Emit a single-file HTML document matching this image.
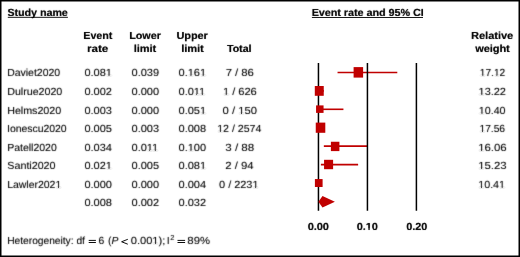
<!DOCTYPE html><html><head><meta charset="utf-8"><style>html,body{margin:0;padding:0;background:#fff;}svg{display:block;}text{font-family:"Liberation Sans",sans-serif;font-size:10.3px;fill:#000;white-space:pre;text-rendering:geometricPrecision;}</style></head><body>
<svg width="520" height="257" viewBox="0 0 520 257">
<defs><filter id="g" x="0" y="0" width="520" height="257" filterUnits="userSpaceOnUse"><feColorMatrix type="saturate" values="0"/><feConvolveMatrix order="3" kernelMatrix="0.0114 0.0841 0.0114 0.0841 0.6178 0.0841 0.0114 0.0841 0.0114" edgeMode="none"/></filter><filter id="g2" x="0" y="0" width="520" height="257" filterUnits="userSpaceOnUse"><feColorMatrix type="saturate" values="0"/><feConvolveMatrix order="3" kernelMatrix="0.0025 0.0450 0.0025 0.0450 0.8100 0.0450 0.0025 0.0450 0.0025" edgeMode="none"/></filter></defs>
<rect x="0" y="0" width="520" height="257" fill="#fff"/>
<line x1="337.55" y1="72.55" x2="397.30" y2="72.55" stroke="#c00000" stroke-width="1.6"/>
<line x1="318.45" y1="90.9" x2="323.84" y2="90.9" stroke="#c00000" stroke-width="1.6"/>
<line x1="318.45" y1="109.3" x2="343.43" y2="109.3" stroke="#c00000" stroke-width="1.6"/>
<line x1="319.92" y1="127.7" x2="322.37" y2="127.7" stroke="#c00000" stroke-width="1.6"/>
<line x1="323.84" y1="146.1" x2="367.43" y2="146.1" stroke="#c00000" stroke-width="1.6"/>
<line x1="320.90" y1="164.6" x2="358.12" y2="164.6" stroke="#c00000" stroke-width="1.6"/>
<line x1="318.45" y1="183.0" x2="320.41" y2="183.0" stroke="#c00000" stroke-width="1.6"/>
<line x1="318.45" y1="63" x2="318.45" y2="210.75" stroke="#000" stroke-width="1.5"/>
<line x1="367.43" y1="63" x2="367.43" y2="210.75" stroke="#000" stroke-width="1.5"/>
<line x1="416.40" y1="63" x2="416.40" y2="210.75" stroke="#000" stroke-width="1.5"/>
<rect x="353.6" y="67.1" width="9.50" height="10.50" fill="#c00000"/>
<rect x="314.8" y="86.0" width="8.95" height="9.80" fill="#c00000"/>
<rect x="316.06" y="105.4" width="7.50" height="7.50" fill="#c00000"/>
<rect x="315.75" y="122.6" width="9.55" height="10.20" fill="#c00000"/>
<rect x="330.9" y="141.75" width="8.50" height="9.35" fill="#c00000"/>
<rect x="324.06" y="159.8" width="9.04" height="9.40" fill="#c00000"/>
<rect x="314.9" y="179.06" width="7.70" height="7.94" fill="#c00000"/>
<polygon points="318.4,201.8 322.5,196.1 334.9,201.8 322.5,207.5" fill="#c00000"/>
<rect x="7.8" y="16.85" width="60.1" height="0.9" fill="#000"/>
<rect x="311.9" y="17.0" width="111.1" height="0.9" fill="#000"/>
<rect x="88.7" y="239.9" width="7.2" height="0.95" fill="#000"/><rect x="88.7" y="242.05" width="7.2" height="0.95" fill="#000"/>
<polyline points="127.8,239.3 121.6,241.75 127.8,244.2" fill="none" stroke="#000" stroke-width="0.95"/>
<rect x="177.5" y="239.9" width="7.6" height="0.95" fill="#000"/><rect x="177.5" y="242.05" width="7.6" height="0.95" fill="#000"/>
<rect x="0.75" y="0.75" width="518.5" height="255.5" fill="none" stroke="#000" stroke-width="1.5"/>
<g filter="url(#g)">
<g id="tr">
<text x="7.18" y="76.05" textLength="52.92" lengthAdjust="spacingAndGlyphs">Daviet2020</text>
<text x="7.19" y="94.75" textLength="55.09" lengthAdjust="spacingAndGlyphs">Dulrue2020</text>
<text x="7.19" y="113.75" textLength="53.99" lengthAdjust="spacingAndGlyphs">Helms2020</text>
<text x="7.09" y="131.75" textLength="59.57" lengthAdjust="spacingAndGlyphs">Ionescu2020</text>
<text x="7.21" y="150.75" textLength="49.52" lengthAdjust="spacingAndGlyphs">Patell2020</text>
<text x="7.38" y="168.9" textLength="48.12" lengthAdjust="spacingAndGlyphs">Santi2020</text>
<text x="7.21" y="187.75" textLength="53.99" lengthAdjust="spacingAndGlyphs">Lawler2021</text>
<text x="225.70" y="76.05" textLength="28.11" lengthAdjust="spacingAndGlyphs">7 / 86</text>
<text x="222.94" y="94.75" textLength="33.84" lengthAdjust="spacingAndGlyphs">1 / 626</text>
<text x="222.59" y="113.75" textLength="34.32" lengthAdjust="spacingAndGlyphs">0 / 150</text>
<text x="217.23" y="131.75" textLength="44.11" lengthAdjust="spacingAndGlyphs">12 / 2574</text>
<text x="225.38" y="150.75" textLength="28.74" lengthAdjust="spacingAndGlyphs">3 / 88</text>
<text x="225.25" y="168.9" textLength="28.24" lengthAdjust="spacingAndGlyphs">2 / 94</text>
<text x="219.10" y="187.75" textLength="39.39" lengthAdjust="spacingAndGlyphs">0 / 2231</text>
<text x="479.87" y="76.05" textLength="25.26" lengthAdjust="spacingAndGlyphs">17.12</text>
<text x="478.60" y="94.75" textLength="27.36" lengthAdjust="spacingAndGlyphs">13.22</text>
<text x="478.82" y="113.75" textLength="26.70" lengthAdjust="spacingAndGlyphs">10.40</text>
<text x="479.46" y="131.75" textLength="25.57" lengthAdjust="spacingAndGlyphs">17.56</text>
<text x="478.28" y="150.75" textLength="28.31" lengthAdjust="spacingAndGlyphs">16.06</text>
<text x="478.28" y="168.9" textLength="28.31" lengthAdjust="spacingAndGlyphs">15.23</text>
<text x="478.33" y="187.75" textLength="26.62" lengthAdjust="spacingAndGlyphs">10.41</text>
<text x="7.20" y="244.3" textLength="77.72" lengthAdjust="spacingAndGlyphs">Heterogeneity: df</text>
<text x="98.40" y="244.3" textLength="5.73" lengthAdjust="spacingAndGlyphs">6</text>
<text x="107.88" y="244.3" textLength="3.44" lengthAdjust="spacingAndGlyphs">(</text>
<text x="111.42" y="244.3" textLength="6.88" lengthAdjust="spacingAndGlyphs" font-style="italic">P</text>
<text x="130.80" y="244.3" textLength="34.41" lengthAdjust="spacingAndGlyphs">0.001);</text>
<text x="166.75" y="244.3" textLength="2.88" lengthAdjust="spacingAndGlyphs">I</text>
<text x="170.32" y="240.35" textLength="4.06" lengthAdjust="spacingAndGlyphs" style="font-size:7.3px">2</text>
<text x="187.35" y="244.3" textLength="22.64" lengthAdjust="spacingAndGlyphs">89%</text>
<text x="84.40" y="76.05" textLength="27.47" lengthAdjust="spacingAndGlyphs">0.081</text>
<text x="131.55" y="76.05" textLength="27.47" lengthAdjust="spacingAndGlyphs">0.039</text>
<text x="178.55" y="76.05" textLength="27.47" lengthAdjust="spacingAndGlyphs">0.161</text>
<text x="84.40" y="94.75" textLength="27.47" lengthAdjust="spacingAndGlyphs">0.002</text>
<text x="131.55" y="94.75" textLength="27.47" lengthAdjust="spacingAndGlyphs">0.000</text>
<text x="178.55" y="94.75" textLength="26.65" lengthAdjust="spacingAndGlyphs">0.011</text>
<text x="84.40" y="113.75" textLength="27.47" lengthAdjust="spacingAndGlyphs">0.003</text>
<text x="131.55" y="113.75" textLength="27.47" lengthAdjust="spacingAndGlyphs">0.000</text>
<text x="178.55" y="113.75" textLength="27.47" lengthAdjust="spacingAndGlyphs">0.051</text>
<text x="84.40" y="131.75" textLength="27.47" lengthAdjust="spacingAndGlyphs">0.005</text>
<text x="131.55" y="131.75" textLength="27.47" lengthAdjust="spacingAndGlyphs">0.003</text>
<text x="178.55" y="131.75" textLength="27.47" lengthAdjust="spacingAndGlyphs">0.008</text>
<text x="84.40" y="150.75" textLength="27.47" lengthAdjust="spacingAndGlyphs">0.034</text>
<text x="131.55" y="150.75" textLength="26.65" lengthAdjust="spacingAndGlyphs">0.011</text>
<text x="178.55" y="150.75" textLength="27.47" lengthAdjust="spacingAndGlyphs">0.100</text>
<text x="84.40" y="168.9" textLength="27.47" lengthAdjust="spacingAndGlyphs">0.021</text>
<text x="131.55" y="168.9" textLength="27.47" lengthAdjust="spacingAndGlyphs">0.005</text>
<text x="178.55" y="168.9" textLength="27.47" lengthAdjust="spacingAndGlyphs">0.081</text>
<text x="84.40" y="187.75" textLength="27.47" lengthAdjust="spacingAndGlyphs">0.000</text>
<text x="131.55" y="187.75" textLength="27.47" lengthAdjust="spacingAndGlyphs">0.000</text>
<text x="178.55" y="187.75" textLength="27.47" lengthAdjust="spacingAndGlyphs">0.004</text>
<text x="84.40" y="205.75" textLength="27.47" lengthAdjust="spacingAndGlyphs">0.008</text>
<text x="131.55" y="205.75" textLength="27.47" lengthAdjust="spacingAndGlyphs">0.002</text>
<text x="178.55" y="205.75" textLength="27.47" lengthAdjust="spacingAndGlyphs">0.032</text>
</g>
<use href="#tr" transform="translate(0.2 0)" opacity="0.3"/>
</g>
<g filter="url(#g2)">
<g id="tb">
<text x="7.41" y="15.9" textLength="60.38" lengthAdjust="spacingAndGlyphs" font-weight="bold">Study name</text>
<text x="311.72" y="16.0" textLength="111.93" lengthAdjust="spacingAndGlyphs" font-weight="bold">Event rate and 95% CI</text>
<text x="83.33" y="39.4" textLength="28.95" lengthAdjust="spacingAndGlyphs" font-weight="bold">Event</text>
<text x="87.10" y="51.85" textLength="21.14" lengthAdjust="spacingAndGlyphs" font-weight="bold">rate</text>
<text x="129.32" y="39.4" textLength="31.49" lengthAdjust="spacingAndGlyphs" font-weight="bold">Lower</text>
<text x="133.70" y="51.85" textLength="22.48" lengthAdjust="spacingAndGlyphs" font-weight="bold">limit</text>
<text x="176.54" y="39.4" textLength="31.29" lengthAdjust="spacingAndGlyphs" font-weight="bold">Upper</text>
<text x="181.20" y="51.85" textLength="22.58" lengthAdjust="spacingAndGlyphs" font-weight="bold">limit</text>
<text x="226.97" y="51.85" textLength="24.52" lengthAdjust="spacingAndGlyphs" font-weight="bold">Total</text>
<text x="471.10" y="39.4" textLength="42.05" lengthAdjust="spacingAndGlyphs" font-weight="bold">Relative</text>
<text x="475.25" y="51.85" textLength="34.47" lengthAdjust="spacingAndGlyphs" font-weight="bold">weight</text>
<text x="307.70" y="230.0" textLength="21.14" lengthAdjust="spacingAndGlyphs" font-weight="bold">0.00</text>
<text x="356.81" y="230.0" textLength="21.04" lengthAdjust="spacingAndGlyphs" font-weight="bold">0.10</text>
<text x="406.21" y="230.0" textLength="20.93" lengthAdjust="spacingAndGlyphs" font-weight="bold">0.20</text>
</g>
<use href="#tb" transform="translate(0.2 0)" opacity="0.6"/>
<rect x="55.45" y="186.96" width="2.54" height="1.16" fill="#fff"/>
<rect x="58.95" y="186.96" width="2.46" height="1.16" fill="#fff"/>
<rect x="223.06" y="93.96" width="2.64" height="1.16" fill="#fff"/>
<rect x="226.72" y="93.96" width="2.56" height="1.16" fill="#fff"/>
<rect x="238.30" y="112.96" width="2.67" height="1.16" fill="#fff"/>
<rect x="242.01" y="112.96" width="2.59" height="1.16" fill="#fff"/>
<rect x="217.32" y="130.96" width="2.56" height="1.16" fill="#fff"/>
<rect x="220.85" y="130.96" width="2.47" height="1.16" fill="#fff"/>
<rect x="252.53" y="186.96" width="2.61" height="1.16" fill="#fff"/>
<rect x="256.15" y="186.96" width="2.53" height="1.16" fill="#fff"/>
<rect x="479.92" y="74.96" width="2.47" height="1.16" fill="#fff"/>
<rect x="483.32" y="74.96" width="2.39" height="1.16" fill="#fff"/>
<rect x="493.94" y="74.96" width="2.47" height="1.16" fill="#fff"/>
<rect x="497.35" y="74.96" width="2.39" height="1.16" fill="#fff"/>
<rect x="478.71" y="93.96" width="2.62" height="1.16" fill="#fff"/>
<rect x="482.34" y="93.96" width="2.53" height="1.16" fill="#fff"/>
<rect x="478.91" y="112.96" width="2.57" height="1.16" fill="#fff"/>
<rect x="482.47" y="112.96" width="2.49" height="1.16" fill="#fff"/>
<rect x="479.52" y="130.96" width="2.49" height="1.16" fill="#fff"/>
<rect x="482.96" y="130.96" width="2.41" height="1.16" fill="#fff"/>
<rect x="478.42" y="149.96" width="2.68" height="1.16" fill="#fff"/>
<rect x="482.15" y="149.96" width="2.60" height="1.16" fill="#fff"/>
<rect x="478.42" y="167.96" width="2.68" height="1.16" fill="#fff"/>
<rect x="482.15" y="167.96" width="2.60" height="1.16" fill="#fff"/>
<rect x="478.42" y="186.96" width="2.57" height="1.16" fill="#fff"/>
<rect x="481.97" y="186.96" width="2.48" height="1.16" fill="#fff"/>
<rect x="499.11" y="186.96" width="2.57" height="1.16" fill="#fff"/>
<rect x="502.66" y="186.96" width="2.49" height="1.16" fill="#fff"/>
<rect x="152.42" y="242.96" width="2.65" height="1.16" fill="#fff"/>
<rect x="156.09" y="242.96" width="2.56" height="1.16" fill="#fff"/>
<rect x="105.86" y="74.96" width="2.63" height="1.16" fill="#fff"/>
<rect x="109.51" y="74.96" width="2.54" height="1.16" fill="#fff"/>
<rect x="187.81" y="74.96" width="2.63" height="1.16" fill="#fff"/>
<rect x="191.45" y="74.96" width="2.54" height="1.16" fill="#fff"/>
<rect x="200.01" y="74.96" width="2.63" height="1.16" fill="#fff"/>
<rect x="203.66" y="74.96" width="2.54" height="1.16" fill="#fff"/>
<rect x="193.80" y="93.96" width="2.37" height="1.16" fill="#fff"/>
<rect x="197.05" y="93.96" width="2.29" height="1.16" fill="#fff"/>
<rect x="199.19" y="93.96" width="2.63" height="1.16" fill="#fff"/>
<rect x="202.84" y="93.96" width="2.54" height="1.16" fill="#fff"/>
<rect x="200.01" y="112.96" width="2.63" height="1.16" fill="#fff"/>
<rect x="203.66" y="112.96" width="2.54" height="1.16" fill="#fff"/>
<rect x="146.80" y="149.96" width="2.37" height="1.16" fill="#fff"/>
<rect x="150.05" y="149.96" width="2.29" height="1.16" fill="#fff"/>
<rect x="152.19" y="149.96" width="2.63" height="1.16" fill="#fff"/>
<rect x="155.84" y="149.96" width="2.54" height="1.16" fill="#fff"/>
<rect x="187.81" y="149.96" width="2.63" height="1.16" fill="#fff"/>
<rect x="191.45" y="149.96" width="2.54" height="1.16" fill="#fff"/>
<rect x="105.86" y="167.96" width="2.63" height="1.16" fill="#fff"/>
<rect x="109.51" y="167.96" width="2.54" height="1.16" fill="#fff"/>
<rect x="200.01" y="167.96" width="2.63" height="1.16" fill="#fff"/>
<rect x="203.66" y="167.96" width="2.54" height="1.16" fill="#fff"/>
<rect x="365.78" y="228.68" width="2.55" height="1.44" fill="#fff"/>
<rect x="369.85" y="228.68" width="2.41" height="1.44" fill="#fff"/>
</g></svg></body></html>
